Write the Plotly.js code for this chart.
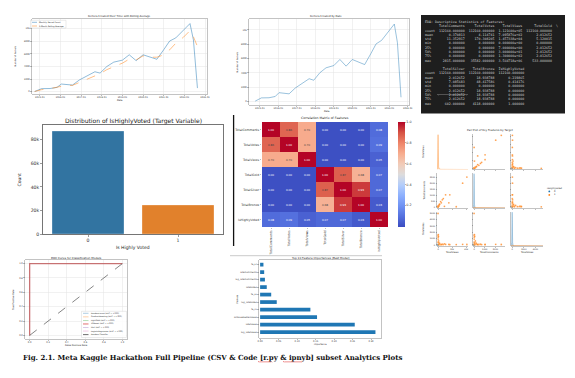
<!DOCTYPE html>
<html><head><meta charset="utf-8">
<script src="https://cdn.plot.ly/plotly-3.0.1.min.js"></script>
<style>html,body{margin:0;padding:0;background:#fff;overflow:hidden}#chart{width:575px;height:378px}</style>
</head><body><div id="chart"></div>
<script>
// ---------------- data ----------------
const kernelDates = ["2014-10-01","2015-02-01","2015-07-01","2015-11-01","2016-01-15","2016-04-01","2016-08-01","2016-12-01","2017-05-01","2017-09-01","2017-12-01","2018-04-01","2018-08-01","2019-01-01","2019-05-01","2019-09-01","2020-01-01","2020-05-01","2020-09-01","2021-01-01","2021-04-15","2021-08-01","2021-12-15","2022-04-10","2022-06-10","2022-08-20"];
const monthlyKernels = [30,480,500,680,1210,1110,1050,1860,2600,3160,2950,4000,4690,5000,5850,4920,5850,5480,5140,6660,8030,8520,9690,10800,8210,570];
const rollingKernels = [30,320,480,700,950,1000,1000,1470,2000,2600,2850,3500,4000,4530,5160,5050,5680,5470,5470,5840,6630,7680,8630,9680,8700,7160];

const targetClasses = ["0","1"];
const targetCounts = [87500, 24660];

const corrFeatures = ["TotalComments","TotalVotes","TotalViews","TotalGold","TotalSilver","TotalBronze","IsHighlyVoted"];
const corrTotalComments = [1.00,0.86,0.70,0.00,0.00,0.00,0.08];
const corrTotalVotes    = [0.86,1.00,0.70,0.00,0.00,0.00,0.09];
const corrTotalViews    = [0.70,0.70,1.00,0.00,0.00,0.00,0.05];
const corrTotalGold     = [0.00,0.00,0.00,1.00,0.87,0.68,0.07];
const corrTotalSilver   = [0.00,0.00,0.00,0.87,1.00,0.93,0.07];
const corrTotalBronze   = [0.00,0.00,0.00,0.68,0.93,1.00,0.03];
const corrIsHighlyVoted = [0.08,0.09,0.05,0.07,0.07,0.03,1.00];

const pairFeatures = ["TotalViews","TotalComments","TotalVotes"];
const pairViewsPos    = [40900,34900,16700,10700,7400,6000,3700,2300,1400,500,15300,4600,0,200,100,300,600,1000,25800,9000,800,2000,150,50];
const pairCommentsPos = [2550,2030,1030,1030,710,600,450,240,130,50,340,340,0,20,10,30,60,90,5,40,120,200,15,5];
const pairVotesPos    = [40,60,30,50,20,80,40,60,30,20,50,30,5000,1200,1500,1600,1350,300,25,150,600,250,900,400];
const pairViewsNeg    = [0,50,120,300];
const pairCommentsNeg = [0,0,1,2];
const pairVotesNeg    = [0,1,2,0];
const kdeViewsX = [-1500,-800,-300,0,300,800,1500,4000,42500];
const kdeViewsPos = [0,0.05,0.6,1,0.6,0.08,0.02,0.005,0];
const kdeCommentsX = [-100,-40,-15,0,15,40,100,2900];
const kdeCommentsNeg = [0,0.1,0.7,1,0.7,0.1,0,0];
const kdeCommentsPos = [0.01,0.02,0.03,0.03,0.025,0.02,0.015,0.005];
const kdeVotesX = [-200,-80,-30,0,30,80,200,5300];
const kdeVotesNeg = [0,0.1,0.7,1,0.7,0.1,0,0];
const kdeVotesPos = [0.01,0.02,0.03,0.03,0.025,0.02,0.015,0.005];

const rocModels = ["RandomForest (AUC = 1.000)","GradientBoosting (AUC = 1.000)","LightGBM (AUC = 1.000)","XGBoost (AUC = 1.000)","MLP (AUC = 1.000)","LogisticRegression (AUC = 1.000)"];
const rocFpr = [0,0,1];
const rocTpr = [0,1,1];
const randomFpr = [0,1];
const randomTpr = [0,1];

const fiFeatures = ["log_TotalViews","TotalViews","IsAboveMedianViews","fe_cv","log_TotalVotes","fe_vv","TotalVotes","log_TotalComments","TotalComments","fe_vc"];
const fiValues = [0.312,0.256,0.154,0.136,0.045,0.030,0.018,0.013,0.011,0.009];

const describeLines = [
"EDA: Descriptive Statistics of Features:",
"       TotalComments     TotalVotes    TotalViews      TotalGold  \\",
"count  112160.000000  112160.000000  1.121600e+05  112160.000000",
"mean        0.370813       4.114741  7.095876e+02       2.012652",
"std        11.352917     170.308205  1.457338e+04       5.120015",
"min         0.000000       0.000000  0.000000e+00       0.000000",
"25%         0.000000       0.000000  7.000000e+00       2.012652",
"50%         0.000000       0.000000  3.000000e+01       2.012652",
"75%         0.000000       0.000000  1.300000e+02       2.012652",
"max      2815.000000   35582.000000  3.560718e+06     533.000000",
"",
"         TotalSilver    TotalBronze  IsHighlyVoted",
"count  112160.000000  112160.000000  112160.000000",
"mean        2.012652      18.938788       0.219865",
"std         7.085683      48.417586       0.414176",
"min         0.000000       0.000000       0.000000",
"25%         2.012652      18.938788       0.000000",
"50%         2.012652      18.938788       0.000000",
"75%         2.012652      18.938788       0.000000",
"max       602.000000    4118.000000       1.000000"
];

const captionText = "Fig. 2.1. Meta Kaggle Hackathon Full Pipeline (CSV & Code [r.py & ipnyb] subset Analytics Plots";

// ---------------- helpers ----------------
const W = 575, H = 378;
const PX = x => x / W;
const PY = y => 1 - y / H;
const dx = (a, b) => [PX(a), PX(b)];
const dy = (t, b) => [PY(b), PY(t)];
const FONT = "DejaVu Sans";
function ann(text, x, y, size, extra) {
  return Object.assign({text, x: PX(x), y: PY(y), xref: "paper", yref: "paper", showarrow: false,
    font: {family: FONT, size, color: "#222"}, xanchor: "center", yanchor: "middle", borderpad: 0}, extra || {});
}
function ax(domain, extra) {
  return Object.assign({domain, showgrid: false, zeroline: false, fixedrange: true,
    tickfont: {family: FONT, size: 2.3, color: "#333"}, ticks: "outside", ticklen: 1.2, tickwidth: 0.4,
    tickcolor: "#555", showline: true, linecolor: "#888", linewidth: 0.5}, extra || {});
}
const GRID = {showgrid: true, gridcolor: "#e4e4e4", gridwidth: 0.5};
const yearTicks = ["2015-01-01","2016-01-01","2017-01-01","2018-01-01","2019-01-01","2020-01-01","2021-01-01","2022-01-01","2023-01-01"];

const traces = [];
const layout = {width: W, height: H, margin: {l: 0, r: 0, t: 0, b: 0}, paper_bgcolor: "#fff", plot_bgcolor: "rgba(0,0,0,0)",
  showlegend: false, annotations: [], shapes: []};
const A = layout.annotations, S = layout.shapes;

// ---------- panel 1: kernels over time with rolling avg ----------
traces.push({type: "scatter", mode: "lines", x: kernelDates, y: monthlyKernels, xaxis: "x", yaxis: "y",
  line: {color: "#1f77b4", width: 0.9}, opacity: 0.55});
traces.push({type: "scatter", mode: "lines", x: kernelDates, y: rollingKernels, xaxis: "x", yaxis: "y",
  line: {color: "#ff7f0e", width: 0.9, dash: "dash"}, opacity: 0.55});
layout.xaxis = ax(dx(32, 207), Object.assign({type: "date", range: ["2014-08-15", "2023-02-05"], tickvals: yearTicks,
  tickformat: "%Y-%m", anchor: "y", mirror: true}, GRID));
layout.yaxis = ax(dy(19, 94), Object.assign({range: [-368, 11526], tickvals: [0,2000,4000,6000,8000,10000], anchor: "x", mirror: true}, GRID));
A.push(ann("Kernels Created Over Time with Rolling Average", 119.5, 16.5, 2.6));
A.push(ann("Date", 119.5, 100.5, 2.3));
A.push(ann("Number of Kernels", 15, 56.5, 2.2, {textangle: -90}));
S.push({type: "rect", xref: "paper", yref: "paper", x0: PX(30.5), x1: PX(66), y0: PY(28), y1: PY(20.3),
  fillcolor: "rgba(255,255,255,0.8)", line: {color: "#ccc", width: 0.4}});
S.push({type: "line", xref: "paper", yref: "paper", x0: PX(32), x1: PX(37), y0: PY(22.3), y1: PY(22.3), line: {color: "rgba(31,119,180,0.6)", width: 0.8}});
S.push({type: "line", xref: "paper", yref: "paper", x0: PX(32), x1: PX(37), y0: PY(26), y1: PY(26), line: {color: "rgba(255,127,14,0.6)", width: 0.8, dash: "dash"}});
A.push(ann("Monthly Kernel Count", 38.5, 22.3, 2.0, {xanchor: "left"}));
A.push(ann("3-Month Rolling Average", 38.5, 26, 2.0, {xanchor: "left"}));

// ---------- panel 2: kernels by date ----------
traces.push({type: "scatter", mode: "lines", x: kernelDates, y: monthlyKernels, xaxis: "x2", yaxis: "y2",
  line: {color: "#1f77b4", width: 0.9}, opacity: 0.5});
layout.xaxis2 = ax(dx(249, 409), Object.assign({type: "date", range: ["2014-06-01", "2023-01-25"], tickvals: yearTicks,
  tickformat: "%Y-%m", anchor: "y2", mirror: true}, GRID));
layout.yaxis2 = ax(dy(18.5, 105), Object.assign({range: [-512, 11581], tickvals: [0,2000,4000,6000,8000,10000], anchor: "x2", mirror: true}, GRID));
A.push(ann("Kernels Created by Date", 326, 16.5, 2.6));
A.push(ann("Date", 327, 111.5, 2.3));
A.push(ann("Number of Kernels", 237.5, 62, 2.2, {textangle: -90}));

// ---------- panel 3: describe() terminal ----------
S.push({type: "rect", xref: "paper", yref: "paper", x0: PX(421), x1: PX(565), y0: PY(113.5), y1: PY(15),
  fillcolor: "#1e1e1e", line: {width: 0}, layer: "below"});
A.push(ann(describeLines.map(l => l.replace(/ /g, "\u00a0")).join("<br>"), 424, 19.3, 3.3,
  {xanchor: "left", yanchor: "top", align: "left", font: {family: "DejaVu Sans Mono", size: 3.3, color: "#d0d0d0"}}));

// ---------- panel 4: target distribution ----------
traces.push({type: "bar", x: targetClasses, y: targetCounts, xaxis: "x3", yaxis: "y3", width: 0.8,
  marker: {color: ["#3274a1", "#e1812c"], line: {color: "rgba(255,255,255,0.5)", width: 0.6}}});
layout.xaxis3 = ax(dx(43, 223), {type: "category", range: [-0.5, 1.5], anchor: "y3", mirror: true, linecolor: "#666", linewidth: 0.9,
  tickfont: {family: FONT, size: 4.6, color: "#333"}, ticklen: 2, tickwidth: 0.6});
layout.yaxis3 = ax(dy(125, 234), {range: [0, 92600], tickvals: [0,20000,40000,60000,80000], anchor: "x3", mirror: true,
  linecolor: "#666", linewidth: 0.9, tickfont: {family: FONT, size: 4.6, color: "#333"}, ticklen: 2, tickwidth: 0.6});
A.push(ann("Distribution of IsHighlyVoted (Target Variable)", 133, 120.5, 6.0));
A.push(ann("Is Highly Voted", 133, 247.5, 4.5));
A.push(ann("Count", 18.5, 180, 4.5, {textangle: -90}));
S.push({type: "line", xref: "paper", yref: "paper", x0: PX(233.6), x1: PX(233.6), y0: PY(115), y1: PY(246), line: {color: "#111", width: 1.3}});

// ---------- panel 5: correlation heatmap ----------
const coolwarm = [[0,"#3b4cc0"],[0.1,"#5470de"],[0.2,"#6f92f3"],[0.3,"#8db0fe"],[0.4,"#b3cdfb"],[0.5,"#dddcdc"],
  [0.6,"#f2cbb7"],[0.7,"#f7ac8e"],[0.8,"#ee8468"],[0.9,"#d65244"],[1,"#b40426"]];
traces.push({type: "heatmap", x: corrFeatures, y: corrFeatures, xaxis: "x4", yaxis: "y4",
  z: [corrTotalComments, corrTotalVotes, corrTotalViews, corrTotalGold, corrTotalSilver, corrTotalBronze, corrIsHighlyVoted],
  zmin: -0.01, zmax: 1, colorscale: coolwarm, texttemplate: "%{z:.2f}", textfont: {family: FONT, size: 2.8}, xgap: 0, ygap: 0,
  colorbar: {x: PX(398), xanchor: "left", y: PY(174.5), yanchor: "middle", len: 105 / H, lenmode: "fraction",
    thickness: 7, thicknessmode: "pixels", outlinewidth: 0, xpad: 0, ypad: 0, tickvals: [0.2,0.4,0.6,0.8,1.0],
    tickformat: ".1f", ticks: "outside", ticklen: 1.2, tickwidth: 0.4, tickfont: {family: FONT, size: 3.3, color: "#333"}}});
layout.xaxis4 = ax(dx(262, 388), {anchor: "y4", showline: false, tickangle: -90, tickfont: {family: FONT, size: 3.1, color: "#333"}});
layout.yaxis4 = ax(dy(122, 227), {anchor: "x4", showline: false, autorange: "reversed", tickfont: {family: FONT, size: 3.1, color: "#333"}});
A.push(ann("Correlation Matrix of Features", 325, 117.5, 3.2));

// ---------- panel 6: pair plot ----------
const colDom = [[437, 468], [473, 505], [511, 543]];
const rowDom = [[134, 169.5], [173, 208], [211.5, 246]];
const pairPos = [pairViewsPos, pairCommentsPos, pairVotesPos];
const pairNeg = [pairViewsNeg, pairCommentsNeg, pairVotesNeg];
const pairRange = [[-1500, 42500], [-100, 2900], [-200, 5300]];
const pairYTicks = [[0,10000,20000,30000,40000], [0,500,1000,1500,2000,2500], [0,1000,2000,3000,4000,5000]];
const pairXTicks = [[0,20000,40000], [0,1000,2000], [0,2000,4000]];
const kdeX = [kdeViewsX, kdeCommentsX, kdeVotesX];
const kdeNeg = [null, kdeCommentsNeg, kdeVotesNeg];
const kdePos = [kdeViewsPos, kdeCommentsPos, kdeVotesPos];
for (let r = 0; r < 3; r++) {
  for (let c = 0; c < 3; c++) {
    const k = 5 + r * 3 + c;
    const xa = "x" + k, ya = "y" + k;
    const pf = {family: FONT, size: 2.1, color: "#333"};
    layout["xaxis" + k] = ax(dx(colDom[c][0], colDom[c][1]), {anchor: ya, range: pairRange[c], tickvals: pairXTicks[c],
      showticklabels: r === 2, tickfont: pf, ticklen: 1});
    layout["yaxis" + k] = ax(dy(rowDom[r][0], rowDom[r][1]), {anchor: xa, range: pairRange[r], tickvals: pairYTicks[r],
      showticklabels: c === 0, tickfont: pf, ticklen: 1});
    if (r === c) {
      let kya = ya;
      if (r === 0) {
        layout.yaxis16 = {domain: dy(rowDom[0][0], rowDom[0][1]), anchor: "free", position: PX(437), range: [0, 1.02],
          visible: false, showgrid: false, zeroline: false, fixedrange: true};
        kya = "y16";
      } else {
        layout["yaxis" + k].range = [0, 1.02];
        layout["yaxis" + k].tickvals = [];
      }
      if (kdeNeg[r]) traces.push({type: "scatter", mode: "lines", x: kdeX[r], y: kdeNeg[r], xaxis: xa, yaxis: kya,
        fill: "tozeroy", fillcolor: "rgba(31,119,180,0.25)", line: {color: "rgba(31,119,180,0.6)", width: 0.5}});
      traces.push({type: "scatter", mode: "lines", x: kdeX[r], y: kdePos[r], xaxis: xa, yaxis: kya,
        fill: "tozeroy", fillcolor: "rgba(255,127,14,0.25)", line: {color: "rgba(255,127,14,0.7)", width: 0.5}});
    } else {
      traces.push({type: "scatter", mode: "markers", x: pairNeg[c], y: pairNeg[r], xaxis: xa, yaxis: ya,
        marker: {color: "#1f77b4", size: 1.8, opacity: 0.8, line: {color: "#fff", width: 0.2}}});
      traces.push({type: "scatter", mode: "markers", x: pairPos[c], y: pairPos[r], xaxis: xa, yaxis: ya,
        marker: {color: "#ff7f0e", size: 1.8, opacity: 0.8, line: {color: "#fff", width: 0.2}}});
    }
  }
}
const rowMid = [151.75, 190.5, 228.75], colMid = [452.5, 489, 527];
for (let i = 0; i < 3; i++) {
  A.push(ann(pairFeatures[i], 424, rowMid[i], 2.4, {textangle: -90}));
  A.push(ann(pairFeatures[i], colMid[i], 252.7, 2.4));
}
A.push(ann("Pair Plot of Key Features by Target", 490, 130, 2.7));
A.push(ann("IsHighlyVoted", 554.5, 188, 2.2));
S.push({type: "circle", xref: "paper", yref: "paper", x0: PX(548.4), x1: PX(550.2), y0: PY(192.3), y1: PY(190.5), fillcolor: "#1f77b4", line: {width: 0}});
S.push({type: "circle", xref: "paper", yref: "paper", x0: PX(548.4), x1: PX(550.2), y0: PY(195.8), y1: PY(194), fillcolor: "#ff7f0e", line: {width: 0}});
A.push(ann("0", 553, 191.4, 2.3, {xanchor: "left"}));
A.push(ann("1", 553, 194.9, 2.3, {xanchor: "left"}));

// ---------- panel 7: ROC ----------
const rocColors = ["#1f77b4","#ff7f0e","#2ca02c","#d62728","#9467bd","#e377c2"];
const rocWidths = [0.7, 0.7, 0.7, 1.3, 0.7, 0.7];
const rocDrawOrder = [0, 1, 2, 4, 5, 3];
rocDrawOrder.forEach(i => {
  traces.push({type: "scatter", mode: "lines", x: rocFpr, y: rocTpr, xaxis: "x14", yaxis: "y14", name: rocModels[i],
    line: {color: rocColors[i], width: rocWidths[i]}, opacity: i === 3 ? 0.45 : 0.25});
});
traces.push({type: "scatter", mode: "lines", x: randomFpr, y: randomTpr, xaxis: "x14", yaxis: "y14", name: "Random Classifier",
  line: {color: "#333", width: 0.6, dash: "dash"}});
layout.xaxis14 = ax(dx(25, 127), Object.assign({anchor: "y14", range: [-0.05, 1.05], tickvals: [0,0.2,0.4,0.6,0.8,1.0], tickformat: ".1f", mirror: true}, GRID));
layout.yaxis14 = ax(dy(260, 339), Object.assign({anchor: "x14", range: [-0.05, 1.05], tickvals: [0,0.2,0.4,0.6,0.8,1.0], tickformat: ".1f", mirror: true}, GRID));
A.push(ann("ROC Curve for Classification Models", 76, 257.5, 2.8));
A.push(ann("False Positive Rate", 76, 345, 2.4));
A.push(ann("True Positive Rate", 13.5, 299.5, 2.3, {textangle: -90}));
S.push({type: "rect", xref: "paper", yref: "paper", x0: PX(81.5), x1: PX(126.5), y0: PY(337.5), y1: PY(311.3),
  fillcolor: "rgba(255,255,255,0.85)", line: {color: "#ccc", width: 0.4}});
const legNames = rocModels.concat(["Random Classifier"]);
legNames.forEach((n, i) => {
  const yy = 313.3 + i * 3.55;
  const col = i < 6 ? rocColors[i] : "#333";
  S.push({type: "line", xref: "paper", yref: "paper", x0: PX(83), x1: PX(88.5), y0: PY(yy), y1: PY(yy),
    line: {color: col, width: i === 3 ? 1.3 : 0.7, dash: i === 6 ? "dash" : "solid"}, opacity: i < 6 ? 0.5 : 1});
  A.push(ann(n, 89.8, yy, 1.9, {xanchor: "left"}));
});

// ---------- panel 8: feature importances ----------
traces.push({type: "bar", orientation: "h", x: fiValues, y: fiFeatures, xaxis: "x15", yaxis: "y15", width: 0.5,
  marker: {color: "#1f77b4"}});
layout.xaxis15 = ax(dx(259, 381), {anchor: "y15", range: [-0.003, 0.327], tickvals: [0,0.05,0.10,0.15,0.20,0.25,0.30], tickformat: ".2f", mirror: true});
layout.yaxis15 = ax(dy(260, 338), {anchor: "x15", type: "category", range: [-0.8, 9.62], mirror: true, tickfont: {family: FONT, size: 2.2, color: "#333"}});
S.push({type: "line", xref: "paper", yref: "paper", x0: PX(230), x1: PX(382), y0: PY(255.7), y1: PY(255.7), line: {color: "#bbb", width: 0.8}});
A.push(ann("Top 10 Feature Importances (Best Model)", 320, 258.2, 2.8));
A.push(ann("Importance", 320, 344.3, 2.2));
A.push(ann("Feature", 236.5, 299, 2.3, {textangle: -90}));

// ---------- caption ----------
A.push(ann("<b>" + captionText.replace(/&/g, "&amp;") + "</b>", 212, 357.5, 7.0, {font: {family: "DejaVu Serif", size: 7.0, color: "#111"}}));
function squiggle(x0, x1, y) {
  let d = "M" + PX(x0) + "," + PY(y);
  let up = true;
  for (let x = x0 + 1; x <= x1; x += 1) { d += " L" + PX(x) + "," + PY(y + (up ? -0.7 : 0.4)); up = !up; }
  return {type: "path", xref: "paper", yref: "paper", path: d, line: {color: "#d22", width: 0.5}};
}
S.push(squiggle(258, 272, 362));
S.push(squiggle(283, 302, 362));

Plotly.newPlot("chart", traces, layout, {staticPlot: true, displayModeBar: false});
</script>
</body></html>
